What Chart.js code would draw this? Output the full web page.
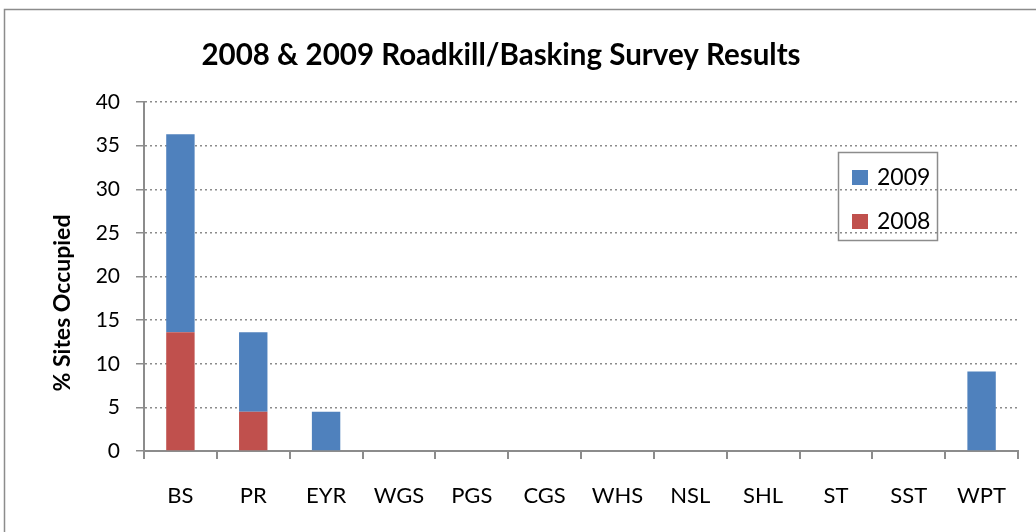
<!DOCTYPE html>
<html>
<head>
<meta charset="utf-8">
<script src="https://cdn.jsdelivr.net/npm/chart.js@4.4.0/dist/chart.umd.min.js"></script>
<style>
  body { margin: 0; background: #fff; }
  #wrap { width: 1036px; height: 532px; }
</style>
</head>
<body>
<div id="wrap"><canvas id="surveyChart" width="1036" height="532"></canvas></div>
<script>
const sites = ['BS', 'PR', 'EYR', 'WGS', 'PGS', 'CGS', 'WHS', 'NSL', 'SHL', 'ST', 'SST', 'WPT'];
const pct2008 = [13.6, 4.5, 0, 0, 0, 0, 0, 0, 0, 0, 0, 0];
const pct2009 = [22.7, 9.1, 4.5, 0, 0, 0, 0, 0, 0, 0, 0, 9.1];
const yTicks = [0, 5, 10, 15, 20, 25, 30, 35, 40];

const FONT = 'Lato, "Open Sans", sans-serif';

// outer frame, titles and in-plot legend
const decor = {
    id: 'decor',
    beforeDraw(chart) {
        const c = chart.ctx;
        c.save();
        c.fillStyle = '#fff';
        c.fillRect(0, 0, chart.width, chart.height);
        c.strokeStyle = '#8c8c8c';
        c.lineWidth = 1.5;
        c.strokeRect(4.5, 9.5, chart.width + 10, chart.height + 10);
        c.restore();
    },
    afterDraw(chart) {
        const c = chart.ctx;
        c.save();
        c.fillStyle = '#000';
        c.font = 'bold 29.5px ' + FONT;
        c.textAlign = 'center';
        c.textBaseline = 'middle';
        c.fillText('2008 & 2009 Roadkill/Basking Survey Results', 501, 55);

        // y axis title
        c.save();
        c.translate(63, 303);
        c.rotate(-Math.PI / 2);
        c.font = 'bold 23px ' + FONT;
        c.fillText('% Sites Occupied', 0, 0);
        c.restore();

        // legend box
        c.strokeStyle = '#8c8c8c';
        c.lineWidth = 1.5;
        c.strokeRect(838.5, 152.5, 99, 88);
        c.font = '23px ' + FONT;
        c.textAlign = 'left';
        const items = chart.data.datasets.slice().reverse();
        items.forEach((ds, i) => {
            const y = 177 + i * 44;
            c.fillStyle = ds.backgroundColor;
            c.fillRect(852, y - 7, 16, 15);
            c.fillStyle = '#000';
            c.fillText(ds.label, 877, y + 1);
        });
        c.restore();
    }
};

const ctx = document.getElementById('surveyChart').getContext('2d');
const surveyChart = new Chart(ctx, {
    type: 'bar',
    data: {
        labels: sites,
        datasets: [
            {
                label: '2008',
                data: pct2008,
                backgroundColor: '#C0504D',
                barPercentage: 0.39,
                categoryPercentage: 1
            },
            {
                label: '2009',
                data: pct2009,
                backgroundColor: '#4F81BD',
                barPercentage: 0.39,
                categoryPercentage: 1
            }
        ]
    },
    options: {
        responsive: false,
        animation: false,
        layout: { padding: { top: 102, right: 18, left: 0, bottom: 0 } },
        plugins: {
            legend: { display: false },
            title: { display: false },
            tooltip: { enabled: false }
        },
        scales: {
            x: {
                stacked: true,
                afterFit(scale) { scale.height = 81; },
                border: { color: '#8c8c8c', width: 2 },
                grid: {
                    drawOnChartArea: false,
                    color: '#8c8c8c',
                    lineWidth: 2,
                    tickLength: 8
                },
                ticks: {
                    color: '#000',
                    font: { family: FONT, size: 22 },
                    padding: 24,
                    maxRotation: 0
                }
            },
            y: {
                stacked: true,
                min: 0,
                max: 40,
                afterFit(scale) { scale.width = 144; },
                afterBuildTicks(scale) { scale.ticks = yTicks.map(v => ({ value: v })); },
                border: { color: '#8c8c8c', width: 2, dash: [2, 3] },
                grid: {
                    color: '#8c8c8c',
                    lineWidth: 1.5,
                    tickBorderDash: [],
                    tickLength: 8,
                    tickColor: '#8c8c8c'
                },
                ticks: {
                    color: '#000',
                    font: { family: FONT, size: 21 },
                    padding: 16
                }
            }
        }
    },
    plugins: [decor]
});
</script>
</body>
</html>
